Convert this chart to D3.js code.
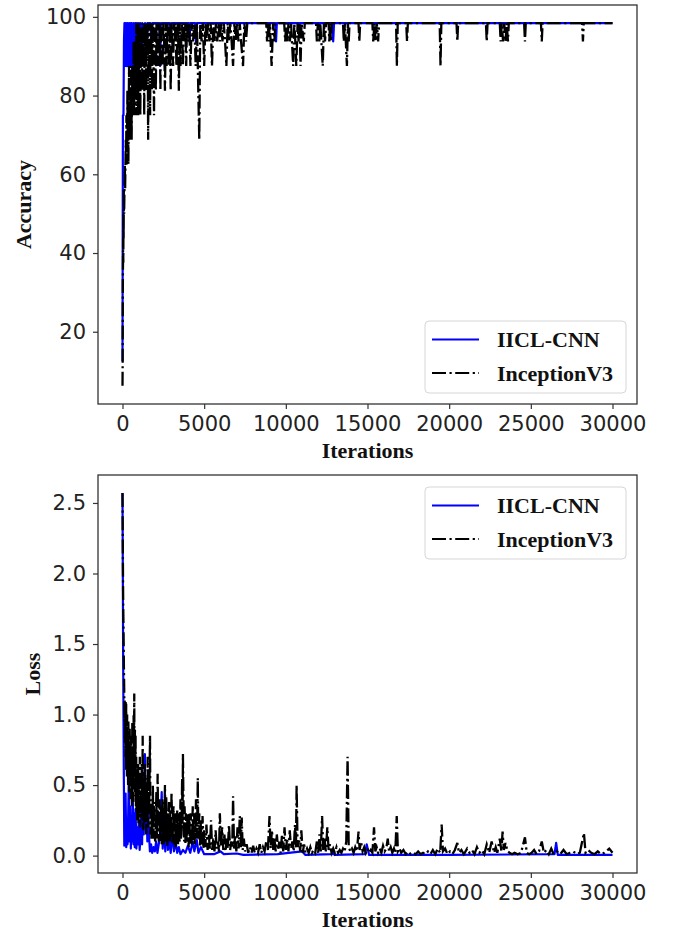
<!DOCTYPE html>
<html>
<head>
<meta charset="utf-8">
<script src="https://cdn.jsdelivr.net/npm/d3@7"></script>
<style>
  body { margin: 0; background: #fff; }
  svg { display: block; }
  .tick text { font-family: 'DejaVu Sans', sans-serif; font-size: 21px; fill: #222; }
  .tick line { stroke: #333; stroke-width: 1.2; }
  .axis-title { font-family: 'Liberation Serif', 'Times New Roman', serif; font-weight: bold; font-size: 22px; fill: #111; }
  .legend text { font-family: 'Liberation Serif', 'Times New Roman', serif; font-weight: bold; font-size: 22px; fill: #111; }
</style>
</head>
<body>
<svg width="674" height="931"></svg>
<script>
const w = 674;
const h = 931;

const seriesNames = ['IICL-CNN', 'InceptionV3'];
const xTicks = [0, 5000, 10000, 15000, 20000, 25000, 30000];
const accTicks = [20, 40, 60, 80, 100];
const lossTicks = [0, 0.5, 1.0, 1.5, 2.0, 2.5];

// [iteration, accuracy]
const iiclAcc = [
  [0,12.5],[25,75],[60,75],[90,93.75],[120,98.4],[150,87.5],[180,98.4],[210,93.75],[240,87.5],[270,98.4],
  [300,87.5],[330,98.4],[360,93.75],[390,87.5],[420,98.4],[450,87.5],[480,93.75],[510,98.4],[540,87.5],[570,98.4],
  [600,81.25],[630,93.75],[660,87.5],[690,98.4],[720,81.25],[750,93.75],[780,98.4],[810,87.5],[840,98.4],[880,93.75],
  [920,98.4],[960,93.75],[1000,98.4],[1050,93.75],[1100,98.4],[1160,87.5],[1220,98.4],[1300,93.75],[1380,98.4],[1450,93.75],
  [1520,98.4],[1700,98.4],[1760,93.75],[1820,98.4],[2250,98.4],[2300,87.5],[2350,98.4],[2900,98.4],[2950,93.75],[3000,98.4],
  [4050,98.4],[4100,93.75],[4150,98.4],[4450,98.4],[4500,93.75],[4550,98.4],[9350,98.4],[9400,93.75],[9450,98.4],
  [12850,98.4],[12900,93.75],[12950,98.4],[30000,98.4]
];

const inceptionAcc = [
  [0,6.25],[10,12.5],[20,31.25],[30,37.5],[40,43.75],[50,37.5],[60,50],[70,43.75],[80,56.25],[100,50],
  [120,56.25],[140,62.5],[160,56.25],[180,62.5],[200,68.75],[220,62.5],[240,75],[260,62.5],[280,68.75],[300,81.25],
  [320,68.75],[340,75],[360,62.5],[380,75],[400,87.5],[420,68.75],[440,81.25],[460,75],[480,68.75],[500,81.25],
  [520,75],[540,87.5],[560,68.75],[580,81.25],[600,75],[620,87.5],[640,75],[660,81.25],[680,93.75],[700,75],
  [720,87.5],[740,81.25],[760,93.75],[780,75],[800,87.5],[820,81.25],[840,98.4],[860,75],[880,93.75],[900,81.25],
  [920,87.5],[940,98.4],[960,75],[980,93.75],[1000,81.25],[1030,98.4],[1060,87.5],[1090,75],[1120,93.75],[1150,87.5],
  [1180,98.4],[1210,81.25],[1240,93.75],[1270,87.5],[1300,98.4],[1330,75],[1360,98.4],[1390,87.5],[1420,93.75],[1450,81.25],
  [1480,98.4],[1510,93.75],[1540,98.4],[1570,68.75],[1600,98.4],[1630,87.5],[1660,93.75],[1690,75],[1720,98.4],[1750,87.5],
  [1780,98.4],[1810,81.25],[1840,93.75],[1870,98.4],[1900,87.5],[1930,75],[1960,98.4],[2000,93.75],[2040,81.25],[2080,98.4],
  [2120,87.5],[2160,98.4],[2200,93.75],[2240,87.5],[2280,98.4],[2320,81.25],[2360,98.4],[2400,93.75],[2450,87.5],[2500,98.4],
  [2550,93.75],[2600,81.25],[2650,98.4],[2700,87.5],[2750,98.4],[2800,93.75],[2850,87.5],[2900,98.4],[2950,81.25],[3000,98.4],
  [3050,93.75],[3100,87.5],[3150,98.4],[3200,93.75],[3250,98.4],[3300,87.5],[3350,93.75],[3400,98.4],[3450,81.25],[3500,98.4],
  [3550,87.5],[3600,93.75],[3650,98.4],[3700,87.5],[3750,98.4],[3800,93.75],[3850,98.4],[3900,87.5],[3950,98.4],[4000,93.75],
  [4080,98.4],[4160,87.5],[4240,98.4],[4320,93.75],[4400,98.4],[4480,87.5],[4560,98.4],[4640,81.25],[4700,68.75],[4760,98.4],
  [4840,93.75],[4920,98.4],[5000,87.5],[5080,98.4],[5160,93.75],[5240,98.4],[5320,93.75],[5400,98.4],[5480,87.5],[5560,98.4],
  [5650,93.75],[5720,98.4],[5800,93.75],[5880,98.4],[5960,93.75],[6040,98.4],[6120,93.75],[6200,98.4],[6280,93.75],[6360,87.5],
  [6440,98.4],[6520,93.75],[6600,98.4],[6680,93.75],[6770,87.5],[6850,98.4],[6930,93.75],[7010,98.4],[7100,93.75],[7180,98.4],
  [7260,93.75],[7380,87.5],[7460,98.4],[7560,93.75],[7640,98.4],[8800,98.4],[8850,93.75],[8900,98.4],[8950,93.75],[9020,98.4],
  [9130,87.5],[9220,98.4],[9300,93.75],[9360,98.4],[9900,98.4],[9960,93.75],[10020,98.4],[10100,93.75],[10160,98.4],[10250,93.75],
  [10320,98.4],[10450,87.5],[10520,98.4],[10580,93.75],[10640,87.5],[10720,98.4],[10780,93.75],[10840,98.4],[10900,87.5],[10960,98.4],
  [11100,93.75],[11160,98.4],[11850,98.4],[11900,93.75],[11960,98.4],[12050,93.75],[12110,98.4],[12260,87.5],[12330,98.4],[12400,93.75],
  [12460,98.4],[12620,98.4],[12660,93.75],[12710,98.4],[12760,93.75],[12810,98.4],[13500,98.4],[13550,93.75],[13620,98.4],[13740,87.5],
  [13800,98.4],[13850,93.75],[13900,98.4],[14450,98.4],[14500,93.75],[14550,98.4],[15300,98.4],[15350,93.75],[15420,98.4],[15500,93.75],
  [15570,98.4],[15650,93.75],[15710,98.4],[16750,98.4],[16800,87.5],[16850,98.4],[17370,98.4],[17420,93.75],[17470,98.4],[19420,98.4],
  [19470,87.5],[19520,98.4],[20450,98.4],[20500,93.75],[20550,98.4],[22250,98.4],[22300,93.75],[22350,98.4],[23100,98.4],[23150,93.75],
  [23220,98.4],[23300,93.75],[23370,98.4],[23450,93.75],[23520,98.4],[23600,93.75],[23650,98.4],[24590,98.4],[24640,93.75],[24690,98.4],
  [25620,98.4],[25670,93.75],[25720,98.4],[28140,98.4],[28190,93.75],[28240,98.4],[30000,98.4]
];

// [iteration, loss]
const iiclLoss = [
  [0,2.57],[40,1.4],[80,0.6],[110,0.07],[150,0.15],[190,0.44],[230,0.06],[270,0.2],[310,0.08],[350,0.3],
  [390,0.57],[430,0.1],[470,0.35],[510,0.05],[550,0.25],[590,0.1],[630,0.42],[670,0.08],[710,0.3],[750,0.06],
  [800,0.33],[850,0.05],[900,0.2],[950,0.08],[1000,0.25],[1050,0.04],[1100,0.12],[1150,0.35],[1200,0.08],[1250,0.5],
  [1300,0.15],[1370,0.72],[1420,0.2],[1470,0.5],[1520,0.1],[1570,0.3],[1620,0.15],[1680,0.03],[1750,0.08],[1820,0.02],
  [1900,0.06],[1980,0.03],[2060,0.1],[2140,0.02],[2220,0.08],[2300,0.15],[2400,0.45],[2460,0.05],[2550,0.2],[2620,0.03],
  [2700,0.28],[2780,0.04],[2850,0.12],[2950,0.02],[3050,0.15],[3150,0.03],[3250,0.1],[3350,0.02],[3450,0.06],[3550,0.01],
  [3700,0.04],[3850,0.02],[4000,0.07],[4150,0.02],[4300,0.1],[4400,0.03],[4550,0.11],[4650,0.02],[4800,0.06],[5000,0.01],
  [5600,0.01],[6000,0.03],[6200,0.01],[7000,0.015],[7400,0.005],[9500,0.01],[11000,0.03],[11200,0.005],[12850,0.01],[12900,0.04],
  [12980,0.005],[14850,0.01],[14950,0.08],[15100,0.005],[20000,0.005],[26450,0.01],[26550,0.09],[26650,0.005],[30000,0.005]
];

const inceptionLoss = [
  [0,2.57],[15,2.3],[30,2.0],[45,1.75],[60,1.62],[75,1.45],[90,1.3],[105,1.18],[120,0.95],[135,1.1],
  [150,0.8],[165,1.05],[180,0.7],[195,1.1],[210,0.6],[225,1.08],[240,0.75],[255,0.9],[270,0.55],[285,1.0],
  [300,0.68],[320,0.85],[340,0.5],[360,0.95],[380,0.62],[400,0.8],[420,0.45],[440,0.9],[460,0.6],[480,0.78],
  [500,0.4],[520,0.85],[540,0.55],[560,0.7],[580,0.35],[600,0.95],[620,0.5],[640,0.75],[660,0.38],[680,1.0],
  [700,0.55],[720,1.15],[740,0.42],[760,0.9],[780,0.6],[800,0.85],[820,0.35],[840,0.7],[860,0.3],[880,0.6],
  [900,0.25],[920,0.55],[940,0.3],[960,0.65],[980,0.22],[1000,0.5],[1030,0.28],[1060,0.7],[1090,0.2],[1120,0.55],
  [1150,0.3],[1180,0.65],[1210,0.25],[1235,0.85],[1270,0.18],[1300,0.5],[1330,0.22],[1360,0.65],[1390,0.3],[1420,0.45],
  [1450,0.15],[1480,0.55],[1510,0.25],[1540,0.7],[1570,0.2],[1600,0.6],[1630,0.3],[1685,0.85],[1710,0.15],[1740,0.4],
  [1770,0.12],[1800,0.35],[1830,0.18],[1860,0.5],[1890,0.12],[1920,0.38],[1960,0.2],[2000,0.1],[2025,0.18],[2050,0.3],
  [2075,0.45],[2100,0.12],[2125,0.2],[2150,0.58],[2175,0.3],[2200,0.15],[2225,0.1],[2250,0.35],[2275,0.4],[2300,0.1],
  [2325,0.15],[2350,0.28],[2375,0.35],[2400,0.08],[2425,0.12],[2450,0.4],[2475,0.3],[2500,0.12],[2525,0.08],[2550,0.25],
  [2575,0.35],[2600,0.5],[2625,0.15],[2650,0.1],[2675,0.42],[2700,0.32],[2725,0.12],[2750,0.07],[2775,0.3],[2800,0.22],
  [2825,0.1],[2850,0.38],[2875,0.25],[2900,0.1],[2925,0.32],[2950,0.2],[2975,0.12],[3000,0.45],[3025,0.3],[3050,0.08],
  [3075,0.15],[3100,0.3],[3125,0.35],[3150,0.12],[3175,0.08],[3200,0.25],[3225,0.3],[3250,0.06],[3275,0.15],[3300,0.18],
  [3325,0.1],[3350,0.32],[3375,0.2],[3400,0.08],[3425,0.3],[3450,0.22],[3475,0.12],[3500,0.1],[3525,0.25],[3550,0.4],
  [3575,0.12],[3600,0.15],[3625,0.3],[3650,0.55],[3675,0.2],[3700,0.72],[3725,0.45],[3750,0.2],[3775,0.1],[3800,0.35],
  [3825,0.25],[3850,0.08],[3875,0.3],[3900,0.25],[3925,0.12],[3950,0.1],[3975,0.3],[4000,0.2],[4025,0.15],[4050,0.06],
  [4075,0.25],[4100,0.3],[4125,0.08],[4150,0.12],[4175,0.3],[4200,0.22],[4225,0.12],[4250,0.07],[4275,0.2],[4300,0.35],
  [4325,0.15],[4350,0.1],[4375,0.3],[4400,0.25],[4425,0.08],[4450,0.15],[4475,0.25],[4500,0.4],[4525,0.12],[4550,0.2],
  [4580,0.3],[4610,0.55],[4630,0.25],[4650,0.12],[4675,0.2],[4700,0.3],[4725,0.15],[4750,0.06],[4775,0.25],[4800,0.2],
  [4825,0.12],[4850,0.08],[4875,0.15],[4900,0.28],[4925,0.2],[4950,0.05],[4975,0.1],[5000,0.18],[5070,0.06],[5140,0.22],
  [5210,0.04],[5280,0.15],[5350,0.05],[5420,0.25],[5490,0.04],[5560,0.12],[5630,0.03],[5700,0.18],[5770,0.05],[5840,0.1],
  [5910,0.03],[5960,0.3],[6030,0.06],[6100,0.2],[6170,0.04],[6240,0.15],[6310,0.03],[6380,0.12],[6450,0.05],[6520,0.22],
  [6590,0.04],[6660,0.1],[6720,0.06],[6770,0.42],[6830,0.05],[6900,0.15],[6970,0.03],[7040,0.2],[7110,0.05],[7180,0.28],
  [7250,0.06],[7300,0.27],[7360,0.04],[7430,0.12],[7500,0.03],[7600,0.08],[7700,0.02],[7800,0.06],[7900,0.02],[8000,0.07],
  [8100,0.02],[8200,0.05],[8300,0.02],[8400,0.08],[8500,0.02],[8600,0.06],[8700,0.03],[8800,0.1],[8900,0.04],[9000,0.28],
  [9070,0.05],[9150,0.18],[9230,0.04],[9300,0.12],[9380,0.03],[9450,0.15],[9530,0.04],[9600,0.1],[9680,0.02],[9760,0.14],
  [9840,0.03],[9920,0.2],[10000,0.04],[10080,0.12],[10160,0.03],[10240,0.18],[10320,0.05],[10400,0.1],[10480,0.03],[10560,0.22],
  [10620,0.05],[10660,0.5],[10720,0.06],[10800,0.12],[10880,0.03],[10950,0.18],[11030,0.02],[11120,0.08],[11200,0.02],[11300,0.05],
  [11400,0.02],[11500,0.06],[11600,0.02],[11700,0.04],[11800,0.02],[11900,0.1],[11980,0.02],[12060,0.15],[12140,0.03],[12220,0.28],
  [12290,0.04],[12370,0.12],[12450,0.03],[12540,0.2],[12620,0.04],[12700,0.08],[12800,0.02],[12900,0.05],[13000,0.02],[13100,0.06],
  [13200,0.02],[13300,0.04],[13400,0.02],[13500,0.05],[13600,0.03],[13700,0.1],[13780,0.7],[13850,0.06],[13950,0.03],[14050,0.05],
  [14150,0.02],[14250,0.06],[14350,0.03],[14450,0.17],[14520,0.04],[14600,0.1],[14700,0.03],[14800,0.06],[14900,0.02],[15000,0.05],
  [15100,0.02],[15200,0.04],[15300,0.02],[15400,0.2],[15480,0.03],[15560,0.06],[15650,0.02],[15750,0.05],[15850,0.02],[15950,0.07],
  [16050,0.03],[16150,0.05],[16240,0.12],[16320,0.03],[16420,0.06],[16520,0.02],[16620,0.05],[16700,0.02],[16790,0.28],[16860,0.03],
  [16960,0.05],[17060,0.02],[17200,0.04],[17350,0.01],[17500,0.03],[17650,0.01],[17800,0.02],[17950,0.01],[18100,0.03],[18250,0.01],
  [18400,0.02],[18550,0.01],[18700,0.03],[18850,0.01],[19000,0.04],[19150,0.01],[19300,0.05],[19450,0.02],[19540,0.22],[19620,0.03],
  [19750,0.05],[19900,0.01],[20050,0.03],[20200,0.01],[20350,0.04],[20500,0.09],[20600,0.02],[20750,0.04],[20900,0.01],[21100,0.05],
  [21250,0.02],[21400,0.04],[21550,0.01],[21700,0.06],[21850,0.02],[22000,0.04],[22150,0.01],[22300,0.08],[22450,0.02],[22600,0.1],
  [22750,0.02],[22850,0.06],[22950,0.02],[23100,0.12],[23200,0.03],[23270,0.17],[23350,0.04],[23450,0.09],[23570,0.03],[23700,0.02],
  [23850,0.01],[24000,0.02],[24200,0.01],[24400,0.02],[24640,0.13],[24750,0.02],[24900,0.01],[25050,0.02],[25200,0.04],[25350,0.01],
  [25500,0.03],[25670,0.1],[25800,0.02],[25950,0.04],[26100,0.01],[26250,0.05],[26400,0.01],[26600,0.03],[26800,0.01],[27000,0.04],
  [27200,0.01],[27400,0.02],[27600,0.03],[27800,0.01],[28000,0.02],[28250,0.16],[28350,0.02],[28500,0.04],[28700,0.02],[28900,0.01],
  [29100,0.03],[29300,0.01],[29500,0.02],[29800,0.05],[30000,0.02]
];

const svg = d3.select('svg');
svg.append('rect').attr('width', w).attr('height', h).attr('fill', '#fff');

const left = 98;
const right = 637;
const blue = '#0000ff';
const dash = '14,3.5,2.2,3.5';

// matplotlib style 5% margin on both ends
function padded(ext) {
  const m = (ext[1] - ext[0]) * 0.05;
  return [ext[0] - m, ext[1] + m];
}

function drawPanel(p) {
  const g = svg.append('g');
  const all = p.series[0].concat(p.series[1]);

  const x = d3.scaleLinear().domain(padded([0, 30000])).range([left, right]);
  const y = d3.scaleLinear().domain(padded(d3.extent(all, d => d[1]))).range([p.bottom, p.top]);

  svg.append('clipPath').attr('id', p.id)
    .append('rect')
    .attr('x', left).attr('y', p.top)
    .attr('width', right - left).attr('height', p.bottom - p.top);

  const line = d3.line().x(d => x(d[0])).y(d => y(d[1]));

  const plot = g.append('g').attr('clip-path', `url(#${p.id})`);
  plot.append('path')
    .attr('d', line(p.series[0]))
    .attr('fill', 'none')
    .attr('stroke', blue)
    .attr('stroke-width', 2.2)
    .attr('stroke-linejoin', 'round');
  plot.append('path')
    .attr('d', line(p.series[1]))
    .attr('fill', 'none')
    .attr('stroke', '#000')
    .attr('stroke-width', 2.3)
    .attr('stroke-dasharray', dash);

  g.append('g')
    .attr('transform', `translate(0,${p.bottom})`)
    .call(d3.axisBottom(x).tickValues(xTicks).tickSize(5).tickPadding(7.5).tickFormat(d3.format('d')))
    .call(a => a.select('.domain').remove());

  g.append('g')
    .attr('transform', `translate(${left},0)`)
    .call(d3.axisLeft(y).tickValues(p.yTicks).tickSize(5).tickPadding(7).tickFormat(p.fmt))
    .call(a => a.select('.domain').remove());

  g.selectAll('.tick text').attr('font-family', null).attr('font-size', null);

  g.append('rect')
    .attr('x', left).attr('y', p.top)
    .attr('width', right - left).attr('height', p.bottom - p.top)
    .attr('fill', 'none')
    .attr('stroke', '#333')
    .attr('stroke-width', 1.3);

  g.append('text')
    .attr('class', 'axis-title')
    .attr('text-anchor', 'middle')
    .attr('x', (left + right) / 2)
    .attr('y', p.bottom + 54)
    .text('Iterations');

  g.append('text')
    .attr('class', 'axis-title')
    .attr('text-anchor', 'middle')
    .attr('transform', `translate(${p.ylabelX},${(p.top + p.bottom) / 2}) rotate(-90)`)
    .text(p.ylabel);

  // legend
  const lg = g.append('g').attr('class', 'legend')
    .attr('transform', `translate(425,${p.legendTop})`);
  lg.append('rect')
    .attr('width', 201).attr('height', 72).attr('rx', 4)
    .attr('fill', '#fff').attr('fill-opacity', 0.85)
    .attr('stroke', '#d6d6d6').attr('stroke-width', 1);
  seriesNames.forEach((name, i) => {
    const cy = 18.5 + i * 33.5;
    lg.append('line')
      .attr('x1', 7).attr('x2', 54).attr('y1', cy).attr('y2', cy)
      .attr('stroke', i === 0 ? blue : '#000')
      .attr('stroke-width', 2.2)
      .attr('stroke-dasharray', i === 0 ? null : dash);
    lg.append('text')
      .attr('x', 72).attr('y', cy).attr('dy', '0.36em')
      .text(name);
  });
}

drawPanel({
  id: 'clipAcc', top: 5, bottom: 404,
  series: [iiclAcc, inceptionAcc],
  yTicks: accTicks, fmt: d3.format('d'),
  ylabel: 'Accuracy', ylabelX: 31,
  legendTop: 321
});

drawPanel({
  id: 'clipLoss', top: 475, bottom: 873,
  series: [iiclLoss, inceptionLoss],
  yTicks: lossTicks, fmt: d3.format('.1f'),
  ylabel: 'Loss', ylabelX: 40,
  legendTop: 487
});
</script>
</body>
</html>
